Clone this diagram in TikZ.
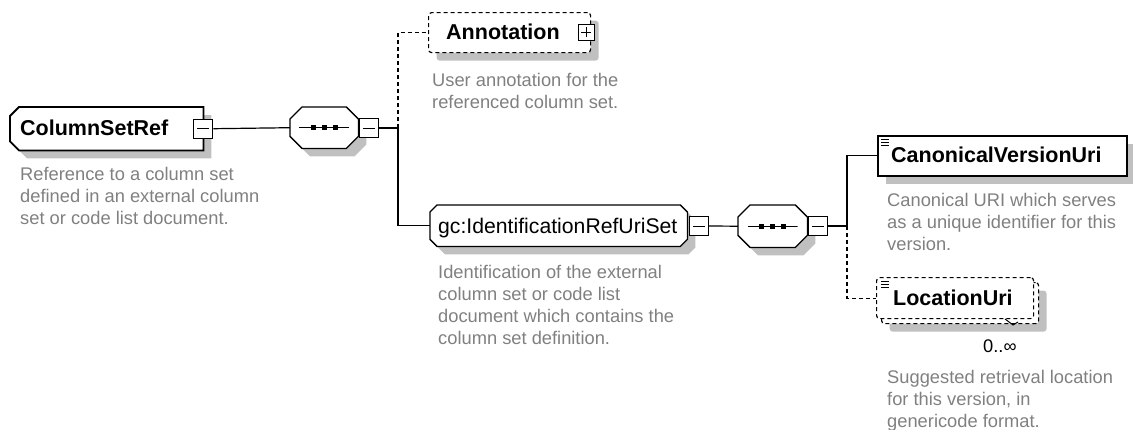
\documentclass[tikz,border=0pt]{standalone}
\usepackage{fontspec}
\setmainfont{Liberation Sans}
\usetikzlibrary{shadows}
\definecolor{shdgray}{HTML}{C0C0C0}
\definecolor{desccol}{HTML}{808080}
% chamfered outline of a node: #1 node, #2 chamfer of left corners, #3 chamfer of right corners
\newcommand{\chpath}[3]{([xshift=#2]#1.north west) -- ([xshift=-#3]#1.north east) -- ([yshift=-#3]#1.north east) -- ([yshift=#3]#1.south east) -- ([xshift=-#3]#1.south east) -- ([xshift=#2]#1.south west) -- ([yshift=#2]#1.south west) -- ([yshift=-#2]#1.north west) -- cycle}
\newcommand{\chbox}[4]{%
  \fill[shdgray,transform canvas={shift={(8pt,-8pt)}}] \chpath{#1}{#2}{#3};
  \draw[fill=white,#4] \chpath{#1}{#2}{#3};}
\begin{document}
\begin{tikzpicture}[x=1pt,y=-1pt,
  shdw/.style={general shadow={fill=shdgray,shadow xshift=8pt,shadow yshift=-8pt}},
  anc/.style={inner sep=0pt,anchor=north west},
  optelem/.style={draw,fill=white,shdw,inner sep=0pt,anchor=north west,line width=1.2pt,dash pattern=on 4pt off 3pt,rounded corners=3pt},
  seqmark/.style={inner sep=0pt,minimum width=50pt,minimum height=8pt,
    path picture={
      \draw[line width=1pt] (path picture bounding box.west) -- (path picture bounding box.east);
      \foreach \dx in {-11,0,11}
        \fill[black] ([xshift=\dx pt]path picture bounding box.center) ++(-2.5pt,-2.5pt) rectangle ++(5pt,5pt);
    }},
  tog/.style={draw,fill=white,line width=1pt,inner sep=0pt,minimum size=19pt},
  minus/.style={tog,path picture={\draw[line width=1pt] ([xshift=3.5pt]path picture bounding box.west) -- ([xshift=-3.5pt]path picture bounding box.east);}},
  plus/.style={tog,minimum size=16pt,path picture={
     \draw[line width=1pt] ([xshift=3pt]path picture bounding box.west) -- ([xshift=-3pt]path picture bounding box.east);
     \draw[line width=1pt] ([yshift=-3pt]path picture bounding box.north) -- ([yshift=3pt]path picture bounding box.south);}},
  ttl/.style={anchor=west,inner sep=0pt,text height=15.4pt,text depth=0pt,font=\fontsize{21.5pt}{24pt}\selectfont\bfseries},
  ttlr/.style={ttl,font=\fontsize{21.2pt}{24pt}\selectfont},
  desc/.style={anchor=base west,inner sep=0pt,text=desccol,font=\fontsize{18.3pt}{22pt}\selectfont},
  conn/.style={line width=1.2pt},
  dsh/.style={dash pattern=on 4pt off 3pt}
]
\useasboundingbox (0,0) rectangle (1133,429);

% ColumnSetRef
\node[anc,minimum width=193pt,minimum height=43pt] (csr) at (10,107) {};
\chbox{csr}{9pt}{0pt}{line width=1.8pt}
\node[ttl] (csrT) at (20,128) {ColumnSetRef};
\node[minus] (csrm) at (csr.east) {};
\node[desc] (csrD) at (20,180) {\begin{tabular}[t]{@{}l@{}}Reference to a column set\\defined in an external column\\set or code list document.\end{tabular}};

% sequence 1
\node[anc,minimum width=68pt,minimum height=41pt] (c1) at (290,107) {};
\chbox{c1}{12pt}{12pt}{line width=1.3pt}
\node[seqmark] (c1s) at (c1.center) {};
\node[minus] (c1m) at (369,128) {};
\coordinate (j1) at (398,128);

% Annotation
\node[optelem,minimum width=162pt,minimum height=40pt] (ann) at (428,12) {};
\node[ttl] (annT) at (446,32) {Annotation};
\node[plus] (annp) at (586,32) {};
\node[desc] (annD) at (432,86) {\begin{tabular}[t]{@{}l@{}}User annotation for the\\referenced column set.\end{tabular}};

% gc:IdentificationRefUriSet
\node[anc,minimum width=257pt,minimum height=41pt] (gc) at (430,205) {};
\chbox{gc}{7pt}{7pt}{line width=1.3pt}
\node[ttlr] (gcT) at (438,226) {gc:IdentificationRefUriSet};
\node[minus] (gcm) at (699,226) {};
\node[desc] (gcD) at (438,278) {\begin{tabular}[t]{@{}l@{}}Identification of the external\\column set or code list\\document which contains the\\column set definition.\end{tabular}};

% sequence 2
\node[anc,minimum width=69pt,minimum height=42pt] (c2) at (738,205) {};
\chbox{c2}{12pt}{12pt}{line width=1.3pt}
\node[seqmark] (c2s) at (c2.center) {};
\node[minus] (c2m) at (818,226) {};
\coordinate (j2) at (847,226);

% CanonicalVersionUri
\node[draw,fill=white,shdw,anc,line width=1.6pt,minimum width=249pt,minimum height=40pt] (cvu) at (877,135) {};
\node[ttl] (cvuT) at (891,155) {CanonicalVersionUri};
\foreach \dy in {4,7,10}
  \draw[line width=0.8pt] ([xshift=4pt,yshift=-\dy pt]cvu.north west) -- ++(8pt,0pt);
\node[desc] (cvuD) at (887,206) {\begin{tabular}[t]{@{}l@{}}Canonical URI which serves\\as a unique identifier for this\\version.\end{tabular}};

% LocationUri (multiple)
\node[optelem,minimum width=157pt,minimum height=41pt] (locb) at (881,282) {};
\node[draw,fill=white,anc,line width=1.2pt,dash pattern=on 4pt off 3pt,rounded corners=3pt,minimum width=157pt,minimum height=41pt] (loc) at (876,277) {};
\node[ttl] (locT) at (893,297.5) {LocationUri};
\foreach \dy in {4,7,10}
  \draw[line width=0.8pt] ([xshift=5pt,yshift=-\dy pt]loc.north west) -- ++(8pt,0pt);
\coordinate (occ) at (1005,319);
\draw[line width=1pt] (occ) -- ++(8pt,-6pt) -- ++(5pt,3pt);
\node[anchor=base west,inner sep=0pt,font=\fontsize{18.3pt}{22pt}\selectfont] (locO) at (983,352) {0..∞};
\node[desc] (locD) at (887,383) {\begin{tabular}[t]{@{}l@{}}Suggested retrieval location\\for this version, in\\genericode format.\end{tabular}};

% connectors
\draw[conn] (csrm.east) -- (c1.west);
\draw[conn] (c1.east) -- (c1m.west);
\draw[conn] (c1m.east) -- (j1);
\draw[conn,dsh] (j1) |- (ann.west);
\draw[conn] (j1) |- (gc.west);
\draw[conn] (gcm.east) -- (c2.west);
\draw[conn] (c2.east) -- (c2m.west);
\draw[conn] (c2m.east) -- (j2);
\draw[conn] (j2) |- (cvu.west);
\draw[conn,dsh] (j2) |- (loc.west);
\end{tikzpicture}
\end{document}
